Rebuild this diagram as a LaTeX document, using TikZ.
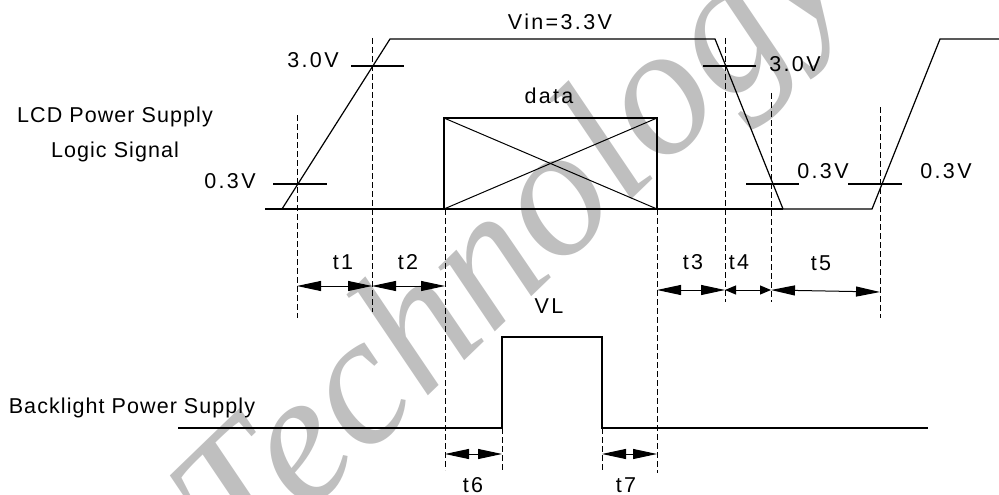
\documentclass[tikz,border=0pt]{standalone}
\usepackage{fontspec}
\setmainfont{Liberation Sans}
\newfontfamily\wordfont[LetterSpace=5]{Liberation Sans}
\newfontfamily\numfont[LetterSpace=11]{Liberation Sans}
\newfontfamily\wmfont{Liberation Serif Italic}
\usetikzlibrary{arrows.meta}
\begin{document}
\begin{tikzpicture}[x=1pt,y=-1pt,
  sig/.style={line width=1.2pt,line join=miter},
  guide/.style={line width=1pt,dash pattern=on 6pt off 3pt},
  tick/.style={line width=1.1pt},
  dim/.style={line width=1pt,{Triangle[length=24pt,width=10pt]}-{Triangle[length=24pt,width=10pt]}},
  dimsmall/.style={line width=1pt,{Triangle[length=11pt,width=9pt]}-{Triangle[length=11pt,width=9pt]}},
  wlbl/.style={inner sep=0pt,anchor=base,font=\wordfont\fontsize{21.5}{25}\selectfont},
  nlbl/.style={inner sep=0pt,anchor=base,font=\numfont\fontsize{21.5}{25}\selectfont}]
\useasboundingbox (0,0) rectangle (999,495);
% watermark
\node[text=black!25,rotate=44,inner sep=0pt,font=\wmfont\fontsize{186}{188}\selectfont] (wm) at (518,248) {Technology};
% LCD waveform
\coordinate (l0) at (265,209);
\coordinate (l1) at (282,209);
\coordinate (l2) at (390,39);
\coordinate (l3) at (715,39);
\coordinate (l4) at (783,209);
\coordinate (l5) at (872,209);
\coordinate (l6) at (940,39);
\coordinate (l7) at (999,39);
\draw[sig] (l0) -- (l4);
\draw[sig] (l1) -- (l2) -- (l3) -- (l4) -- (l5) -- (l6) -- (l7);
% data box
\coordinate (d1) at (444,118);
\coordinate (d2) at (657,209);
\draw[sig] (d1) rectangle (d2);
\draw[line width=1pt] (d1) -- (d2);
\draw[line width=1pt] (d1 |- d2) -- (d2 |- d1);
% threshold ticks
\coordinate (ta1) at (351,66); \coordinate (ta2) at (404,66);
\coordinate (tb1) at (273,184); \coordinate (tb2) at (327,184);
\coordinate (tc1) at (703,66); \coordinate (tc2) at (756,66);
\coordinate (td1) at (746,184); \coordinate (td2) at (799,184);
\coordinate (te1) at (848,184); \coordinate (te2) at (902,184);
\draw[tick] (ta1) -- (ta2);
\draw[tick] (tb1) -- (tb2);
\draw[tick] (tc1) -- (tc2);
\draw[tick] (td1) -- (td2);
\draw[tick] (te1) -- (te2);
% guides
\coordinate (g1t) at (297,115); \coordinate (g1b) at (297,318);
\coordinate (g2t) at (372,38);  \coordinate (g2b) at (372,312);
\coordinate (g3t) at (445,209); \coordinate (g3b) at (445,470);
\coordinate (g4t) at (657,209); \coordinate (g4b) at (657,473);
\coordinate (g5t) at (725,38);  \coordinate (g5b) at (725,302);
\coordinate (g6t) at (771,93);  \coordinate (g6b) at (771,302);
\coordinate (g7t) at (880,107); \coordinate (g7b) at (880,318);
\coordinate (g8t) at (502,428); \coordinate (g8b) at (502,473);
\coordinate (g9t) at (602,428); \coordinate (g9b) at (602,470);
\foreach \g in {1,...,9}{\draw[guide] (g\g t) -- (g\g b);}
% backlight waveform
\coordinate (b0) at (178,428);
\coordinate (b1) at (502,428);
\coordinate (b2) at (502,337);
\coordinate (b3) at (602,337);
\coordinate (b4) at (602,428);
\coordinate (b5) at (928,428);
\draw[sig] (b0) -- (b1) -- (b2) -- (b3) -- (b4) -- (b5);
% dimension arrows
\coordinate (a1) at (297,286); \coordinate (a2) at (372,286); \coordinate (a3) at (445,286);
\coordinate (a4) at (657,290); \coordinate (a5) at (725,290); \coordinate (a6) at (771,290);
\coordinate (a7) at (880,292);
\coordinate (a8) at (445,454); \coordinate (a9) at (502,454);
\coordinate (a10) at (602,454); \coordinate (a11) at (657,454);
\draw[dim] (a1) -- (a2);
\draw[dim] (a2) -- (a3);
\draw[dim] (a4) -- (a5);
\draw[dimsmall] (a5) -- (a6);
\draw[dim] (a6) -- (a7);
\draw[dim] (a8) -- (a9);
\draw[dim] (a10) -- (a11);
% labels
\node[nlbl] (vin) at (560,30) {Vin=3.3V};
\node[nlbl] (v30a) at (313,67) {3.0V};
\node[nlbl] (v30b) at (795,71) {3.0V};
\node[nlbl] (v03a) at (230,188) {0.3V};
\node[nlbl] (v03b) at (823,178) {0.3V};
\node[nlbl] (v03c) at (946,178) {0.3V};
\node[nlbl] (data) at (549,103) {data};
\node[wlbl] (lcd) at (115,122) {LCD Power Supply};
\node[wlbl] (logic) at (115,157) {Logic Signal};
\node[wlbl] (bl) at (132,413) {Backlight Power Supply};
\node[nlbl] (t1) at (343,269) {t1};
\node[nlbl] (t2) at (408,269) {t2};
\node[nlbl] (t3) at (693,269) {t3};
\node[nlbl] (t4) at (739,269) {t4};
\node[nlbl] (t5) at (821,270) {t5};
\node[nlbl] (vl) at (549,313) {VL};
\node[nlbl] (t6) at (473,492) {t6};
\node[nlbl] (t7) at (626,492) {t7};
\end{tikzpicture}
\end{document}
